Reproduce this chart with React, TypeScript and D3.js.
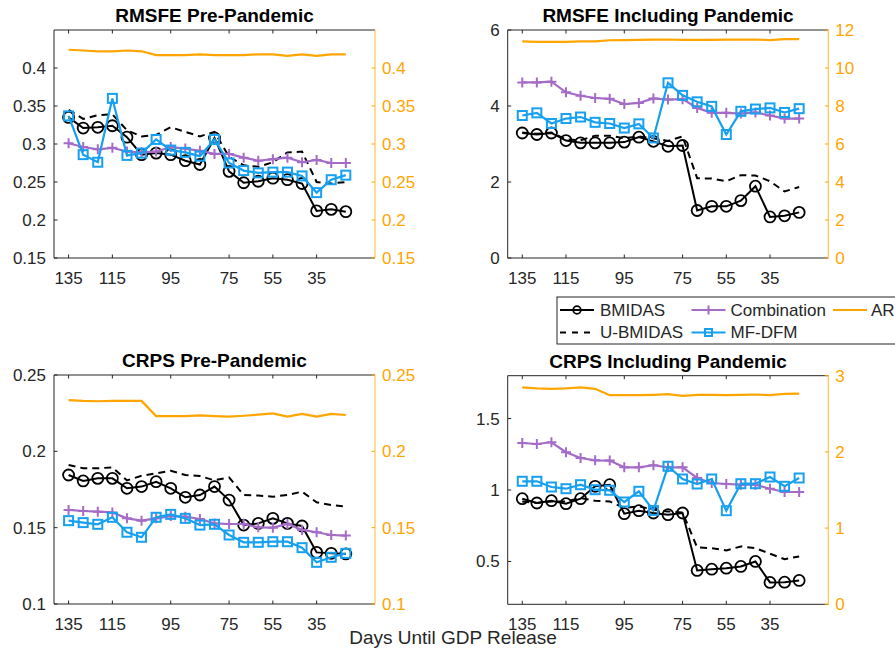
import React from "react";
import * as d3 from "d3";

// Horizon positions (index of each forecast origin) and their day labels
const tickIndex = [0, 3, 7, 11, 14, 17];
const tickDays = ["135", "115", "95", "75", "55", "35"];

// RMSFE, pre-pandemic sample
const rmsfePreBmidas = [0.335, 0.321, 0.322, 0.324, 0.309, 0.286, 0.288, 0.286, 0.278, 0.273, 0.308, 0.264, 0.249, 0.251, 0.255, 0.253, 0.248, 0.212, 0.214, 0.211];
const rmsfePreUBmidas = [0.345, 0.333, 0.338, 0.339, 0.318, 0.310, 0.312, 0.322, 0.316, 0.310, 0.316, 0.283, 0.272, 0.270, 0.276, 0.289, 0.290, 0.250, 0.248, 0.250];
const rmsfePreComb = [0.301, 0.296, 0.293, 0.295, 0.290, 0.289, 0.290, 0.296, 0.294, 0.291, 0.287, 0.287, 0.282, 0.278, 0.280, 0.282, 0.276, 0.279, 0.275, 0.275];
const rmsfePreDfm = [0.337, 0.286, 0.276, 0.360, 0.285, 0.288, 0.306, 0.292, 0.289, 0.284, 0.306, 0.275, 0.265, 0.262, 0.263, 0.263, 0.258, 0.236, 0.253, 0.259];
const rmsfePreAr = [0.424, 0.423, 0.422, 0.422, 0.423, 0.422, 0.417, 0.417, 0.417, 0.418, 0.417, 0.417, 0.417, 0.418, 0.418, 0.416, 0.418, 0.416, 0.418, 0.418];

// RMSFE, sample including the pandemic
const rmsfeAllBmidas = [3.29, 3.25, 3.29, 3.09, 3.03, 3.03, 3.03, 3.05, 3.18, 3.07, 2.94, 2.96, 1.25, 1.36, 1.36, 1.51, 1.89, 1.08, 1.11, 1.20];
const rmsfeAllUBmidas = [3.30, 3.27, 3.30, 3.12, 3.10, 3.22, 3.22, 3.15, 3.20, 3.15, 3.08, 3.20, 2.10, 2.09, 2.02, 2.18, 2.17, 2.02, 1.75, 1.87];
const rmsfeAllComb = [4.62, 4.62, 4.64, 4.36, 4.27, 4.21, 4.19, 4.05, 4.08, 4.20, 4.17, 4.18, 3.95, 3.82, 3.82, 3.80, 3.83, 3.75, 3.67, 3.67];
const rmsfeAllDfm = [3.75, 3.82, 3.54, 3.67, 3.71, 3.57, 3.54, 3.42, 3.53, 3.16, 4.61, 4.28, 4.11, 3.99, 3.25, 3.86, 3.92, 3.95, 3.83, 3.93];
const rmsfeAllAr = [11.40, 11.38, 11.37, 11.38, 11.40, 11.40, 11.46, 11.47, 11.48, 11.49, 11.50, 11.48, 11.48, 11.48, 11.49, 11.49, 11.50, 11.47, 11.52, 11.52];

// CRPS, pre-pandemic sample
const crpsPreBmidas = [0.1845, 0.1806, 0.1823, 0.1823, 0.1758, 0.1769, 0.1801, 0.1758, 0.1699, 0.1714, 0.1769, 0.1681, 0.1517, 0.1528, 0.1561, 0.1528, 0.1511, 0.1338, 0.1332, 0.1328];
const crpsPreUBmidas = [0.1910, 0.1889, 0.1889, 0.1895, 0.1810, 0.1840, 0.1856, 0.1873, 0.1845, 0.1838, 0.1810, 0.1830, 0.1714, 0.1710, 0.1703, 0.1714, 0.1736, 0.1666, 0.1648, 0.1638];
const crpsPreComb = [0.1616, 0.1609, 0.1605, 0.1600, 0.1561, 0.1546, 0.1561, 0.1576, 0.1572, 0.1557, 0.1528, 0.1524, 0.1524, 0.1502, 0.1500, 0.1524, 0.1485, 0.1470, 0.1452, 0.1448];
const crpsPreDfm = [0.1546, 0.1533, 0.1522, 0.1568, 0.1470, 0.1437, 0.1568, 0.1587, 0.1561, 0.1517, 0.1522, 0.1452, 0.1404, 0.1404, 0.1408, 0.1408, 0.1369, 0.1273, 0.1306, 0.1332];
const crpsPreAr = [0.2336, 0.2330, 0.2328, 0.2330, 0.2330, 0.2330, 0.2231, 0.2231, 0.2231, 0.2236, 0.2231, 0.2227, 0.2233, 0.2240, 0.2249, 0.2227, 0.2245, 0.2227, 0.2245, 0.2238];

// CRPS, sample including the pandemic
const crpsAllBmidas = [0.939, 0.909, 0.925, 0.904, 0.939, 1.026, 1.037, 0.834, 0.855, 0.839, 0.827, 0.839, 0.437, 0.446, 0.453, 0.465, 0.500, 0.353, 0.355, 0.367];
const crpsAllUBmidas = [0.920, 0.909, 0.920, 0.920, 0.944, 0.925, 0.920, 0.874, 0.886, 0.862, 0.850, 0.843, 0.598, 0.593, 0.577, 0.605, 0.593, 0.554, 0.516, 0.535];
const crpsAllComb = [1.329, 1.322, 1.334, 1.264, 1.224, 1.208, 1.206, 1.159, 1.159, 1.173, 1.159, 1.159, 1.084, 1.049, 1.042, 1.037, 1.037, 1.009, 0.986, 0.986];
const crpsAllDfm = [1.061, 1.061, 1.021, 1.009, 1.037, 1.002, 0.998, 0.916, 0.991, 0.857, 1.166, 1.077, 1.042, 1.077, 0.855, 1.044, 1.044, 1.091, 1.026, 1.084];
const crpsAllAr = [2.846, 2.833, 2.828, 2.833, 2.846, 2.828, 2.744, 2.744, 2.744, 2.749, 2.758, 2.736, 2.749, 2.749, 2.744, 2.749, 2.753, 2.744, 2.762, 2.766];

const INK = "#262626";
const ORANGE = "#FFA500";
const PURPLE = "#A46BC7";
const BLUE = "#17A0F0";
const FONT = "'Liberation Sans', Arial, Helvetica, sans-serif";

type Panel = {
  title: string;
  left: number; right: number; top: number; bottom: number;
  yL: [number, number]; ticksL: number[];
  yR: [number, number]; ticksR: number[];
  bmidas: number[]; ubmidas: number[]; comb: number[]; dfm: number[]; ar: number[];
};

const panels: Panel[] = [
  {
    title: "RMSFE Pre-Pandemic", left: 54, right: 375, top: 30, bottom: 258,
    yL: [0.15, 0.45], ticksL: [0.15, 0.2, 0.25, 0.3, 0.35, 0.4],
    yR: [0.15, 0.45], ticksR: [0.15, 0.2, 0.25, 0.3, 0.35, 0.4],
    bmidas: rmsfePreBmidas, ubmidas: rmsfePreUBmidas, comb: rmsfePreComb, dfm: rmsfePreDfm, ar: rmsfePreAr,
  },
  {
    title: "RMSFE Including Pandemic", left: 507.7, right: 828.3, top: 30, bottom: 258,
    yL: [0, 6], ticksL: [0, 2, 4, 6],
    yR: [0, 12], ticksR: [0, 2, 4, 6, 8, 10, 12],
    bmidas: rmsfeAllBmidas, ubmidas: rmsfeAllUBmidas, comb: rmsfeAllComb, dfm: rmsfeAllDfm, ar: rmsfeAllAr,
  },
  {
    title: "CRPS Pre-Pandemic", left: 54, right: 375, top: 375, bottom: 604,
    yL: [0.1, 0.25], ticksL: [0.1, 0.15, 0.2, 0.25],
    yR: [0.1, 0.25], ticksR: [0.1, 0.15, 0.2, 0.25],
    bmidas: crpsPreBmidas, ubmidas: crpsPreUBmidas, comb: crpsPreComb, dfm: crpsPreDfm, ar: crpsPreAr,
  },
  {
    title: "CRPS Including Pandemic", left: 507.7, right: 828.3, top: 375.7, bottom: 604.3,
    yL: [0.2, 1.8], ticksL: [0.5, 1, 1.5],
    yR: [0, 3], ticksR: [0, 1, 2, 3],
    bmidas: crpsAllBmidas, ubmidas: crpsAllUBmidas, comb: crpsAllComb, dfm: crpsAllDfm, ar: crpsAllAr,
  },
];

const fmt = d3.format("~g");
const TICK = 3.5;

function Circle({ x, y, r = 5.5 }: { x: number; y: number; r?: number }) {
  return <circle cx={x} cy={y} r={r} fill="none" stroke="#000" strokeWidth={1.8} />;
}
function Square({ x, y, s = 9 }: { x: number; y: number; s?: number }) {
  return <rect x={x - s / 2} y={y - s / 2} width={s} height={s} fill="none" stroke={BLUE} strokeWidth={2} />;
}
function Plus({ x, y, a = 5 }: { x: number; y: number; a?: number }) {
  return <path d={`M${x - a},${y}H${x + a}M${x},${y - a}V${y + a}`} stroke={PURPLE} strokeWidth={2} />;
}

function PanelView({ p }: { p: Panel }) {
  const x = d3.scaleLinear().domain([-1, 21]).range([p.left, p.right]);
  const yl = d3.scaleLinear().domain(p.yL).range([p.bottom, p.top]);
  const yr = d3.scaleLinear().domain(p.yR).range([p.bottom, p.top]);
  const lineL = d3.line<number>().x((_, i) => x(i)).y((d) => yl(d));
  const lineR = d3.line<number>().x((_, i) => x(i)).y((d) => yr(d));
  const cx = (p.left + p.right) / 2;
  return (
    <g>
      <text x={cx} y={p.top - 8} textAnchor="middle" fontSize={19} fontWeight="bold" fill="#000">{p.title}</text>
      {/* frame: left, bottom and top in dark ink */}
      <path d={`M${p.right},${p.top}H${p.left}V${p.bottom}H${p.right}`} fill="none" stroke={INK} strokeWidth={1} />
      {/* x ticks, bottom and top, pointing inward */}
      {tickIndex.map((t, i) => (
        <g key={"xt" + i}>
          <line x1={x(t)} x2={x(t)} y1={p.bottom} y2={p.bottom - TICK} stroke={INK} />
          <line x1={x(t)} x2={x(t)} y1={p.top} y2={p.top + TICK} stroke={INK} />
          <text x={x(t)} y={p.bottom + 26} textAnchor="middle" fontSize={17} fill={INK}>{tickDays[i]}</text>
        </g>
      ))}
      {/* left y axis */}
      {p.ticksL.map((t) => (
        <g key={"yl" + t}>
          <line x1={p.left} x2={p.left + TICK} y1={yl(t)} y2={yl(t)} stroke={INK} />
          <text x={p.left - 8} y={yl(t)} dy="0.35em" textAnchor="end" fontSize={17} fill={INK}>{fmt(t)}</text>
        </g>
      ))}
      {/* right y axis */}
      <line x1={p.right} x2={p.right} y1={p.top} y2={p.bottom} stroke="#FFC550" strokeWidth={1.2} />
      {p.ticksR.map((t) => (
        <g key={"yr" + t}>
          <line x1={p.right} x2={p.right - TICK} y1={yr(t)} y2={yr(t)} stroke={ORANGE} />
          <text x={p.right + 7} y={yr(t)} dy="0.35em" textAnchor="start" fontSize={17} fill={ORANGE}>{fmt(t)}</text>
        </g>
      ))}
      {/* series */}
      <path d={lineL(p.ubmidas) || ""} fill="none" stroke="#000" strokeWidth={2} strokeDasharray="7,5" />
      <path d={lineL(p.bmidas) || ""} fill="none" stroke="#000" strokeWidth={2} />
      {p.bmidas.map((v, i) => <Circle key={"c" + i} x={x(i)} y={yl(v)} />)}
      <path d={lineL(p.comb) || ""} fill="none" stroke={PURPLE} strokeWidth={2.2} />
      {p.comb.map((v, i) => <Plus key={"p" + i} x={x(i)} y={yl(v)} />)}
      <path d={lineL(p.dfm) || ""} fill="none" stroke={BLUE} strokeWidth={2.2} />
      {p.dfm.map((v, i) => <Square key={"s" + i} x={x(i)} y={yl(v)} />)}
      <path d={lineR(p.ar) || ""} fill="none" stroke={ORANGE} strokeWidth={2.2} />
    </g>
  );
}

function Legend() {
  const lx = 557, ly = 297;
  const r1 = 310, r2 = 332.5;
  const c1 = 560, c2 = 691.5, c3 = 833;
  const len = 34;
  return (
    <g>
      <rect x={lx} y={ly} width={400} height={47} fill="#fff" stroke={INK} strokeWidth={1} />
      <line x1={c1} x2={c1 + len} y1={r1} y2={r1} stroke="#000" strokeWidth={2} />
      <Circle x={c1 + len / 2} y={r1} r={3.8} />
      <text x={c1 + len + 6} y={r1} dy="0.35em" fontSize={17} fill={INK}>BMIDAS</text>
      <line x1={c2} x2={c2 + len} y1={r1} y2={r1} stroke={PURPLE} strokeWidth={2.2} />
      <Plus x={c2 + len / 2} y={r1} a={4.5} />
      <text x={c2 + len + 5} y={r1} dy="0.35em" fontSize={17} fill={INK}>Combination</text>
      <line x1={c3} x2={c3 + len} y1={r1} y2={r1} stroke={ORANGE} strokeWidth={2.2} />
      <text x={c3 + len + 4} y={r1} dy="0.35em" fontSize={17} fill={INK}>AR</text>
      <line x1={c1} x2={c1 + len} y1={r2} y2={r2} stroke="#000" strokeWidth={2} strokeDasharray="6,6" />
      <text x={c1 + len + 6} y={r2} dy="0.35em" fontSize={17} fill={INK}>U-BMIDAS</text>
      <line x1={c2} x2={c2 + len} y1={r2} y2={r2} stroke={BLUE} strokeWidth={2.2} />
      <Square x={c2 + len / 2} y={r2} s={7} />
      <text x={c2 + len + 5} y={r2} dy="0.35em" fontSize={17} fill={INK}>MF-DFM</text>
    </g>
  );
}

export default function App() {
  return (
    <svg
      width={895}
      height={648}
      viewBox="0 0 895 648"
      style={{ position: "absolute", left: 0, top: 0, background: "#fff" }}
      fontFamily={FONT}
    >
      <rect width={895} height={648} fill="#fff" />
      {panels.map((p) => <PanelView key={p.title} p={p} />)}
      <Legend />
      <text x={453} y={644} textAnchor="middle" fontSize={19} fill={INK}>Days Until GDP Release</text>
    </svg>
  );
}
